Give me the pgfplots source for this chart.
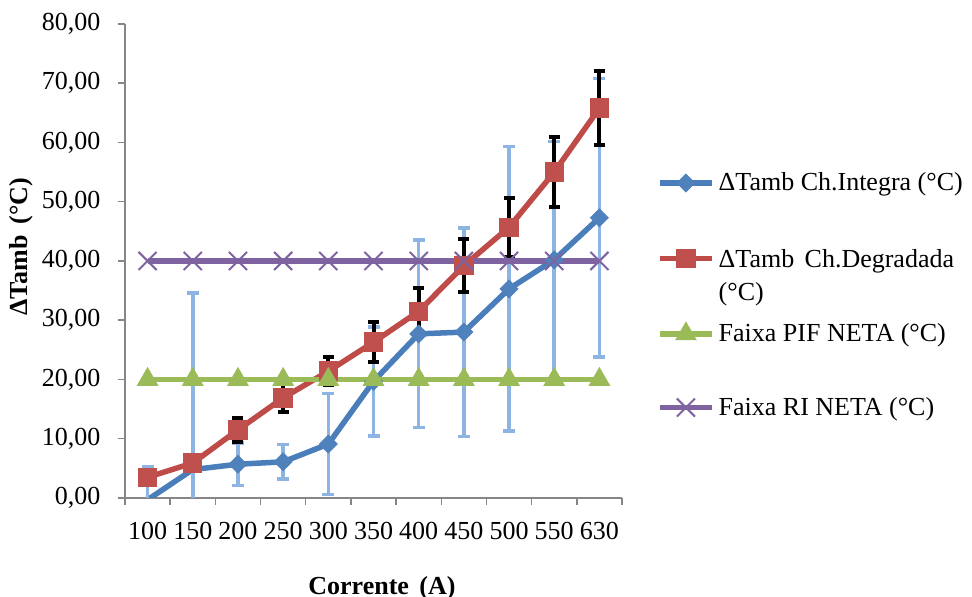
\documentclass[border=0pt]{standalone}
\usepackage{fontspec}
\setmainfont{Liberation Serif}
\usepackage{pgfplots}
\usepackage{pgfplotstable}
\pgfplotsset{compat=1.18}

\definecolor{cInt}{HTML}{4A7EBB}
\definecolor{cIntM}{HTML}{4F81BD}
\definecolor{cDeg}{HTML}{BE4B48}
\definecolor{cDegM}{HTML}{C0504D}
\definecolor{cPif}{HTML}{9BBB59}
\definecolor{cRi}{HTML}{7F63A1}
\definecolor{cErr}{HTML}{8DB4E2}
\definecolor{cAxis}{HTML}{868686}

% x = category index (100 ... 630), e = +/- error
\pgfplotstableread{
x y e
0 -0.3 5.5
1 4.8 29.8
2 5.7 3.6
3 6.1 2.9
4 9.1 8.5
5 19.7 9.2
6 27.7 15.8
7 28.0 17.6
8 35.3 24.0
9 40.2 20.0
10 47.3 23.5
}\integra

\pgfplotstableread{
x y e
0 3.5 0
1 5.9 0
2 11.5 2.0
3 16.9 2.4
4 21.4 2.4
5 26.3 3.4
6 31.5 3.9
7 39.2 4.5
8 45.7 5.0
9 55.0 5.9
10 65.8 6.3
}\degradada

\pgfplotstableread{
x y
0 20
1 20
2 20
3 20
4 20
5 20
6 20
7 20
8 20
9 20
10 20
}\pif

\pgfplotstableread{
x y
0 40
1 40
2 40
3 40
4 40
5 40
6 40
7 40
8 40
9 40
10 40
}\ri

\begin{document}
\begin{tikzpicture}
\useasboundingbox (-62.5pt,-49.5pt) rectangle (423.5pt,249pt);
\begin{axis}[
    at={(0pt,0pt)}, anchor=south west,
    width=248.5pt, height=237pt, scale only axis,
    xmin=-0.5, xmax=10.5, ymin=0, ymax=80,
    axis lines*=left,
    axis line style={cAxis, line width=0.75pt},
    tick align=outside,
    major tick length=3.5pt,
    tick style={cAxis, line width=0.75pt},
    xtick={-0.5,0.5,...,10.5},
    x tick label as interval,
    xticklabels={100,150,200,250,300,350,400,450,500,550,630},
    ytick={0,10,...,80},
    /pgf/number format/assume math mode=true,
    yticklabel style={/pgf/number format/fixed, /pgf/number format/fixed zerofill,
        /pgf/number format/precision=2, /pgf/number format/use comma, xshift=-5.3pt},
    xticklabel style={yshift=-5.2pt},
    tick label style={font=\fontsize{13}{15.5}\selectfont},
    xlabel={Corrente\hspace{0.4em}(A)},
    ylabel={ΔTamb\hspace{0.4em}(°C)},
    label style={font=\fontsize{13}{15.5}\selectfont\bfseries},
    xlabel style={at={(axis description cs:0.517,0)}, anchor=center, yshift=-45pt},
    ylabel style={at={(axis description cs:-0.208,0.53)}, anchor=center},
    legend cell align=left,
    legend image code/.code={
        \draw[mark repeat=2, mark phase=2, #1] plot coordinates {(0pt,0pt) (13pt,0pt) (26pt,0pt)};
    },
    legend style={draw=none, fill=none, inner sep=0pt,
        at={(axis description cs:1.070,0.696)}, anchor=north west,
        row sep=22.3pt, column sep=0pt,
        font=\fontsize{13}{15.5}\selectfont},
]
\addlegendimage{cInt, line width=2.75pt, mark=diamond*, mark size=4.4pt,
    mark options={solid, fill=cIntM, draw=cIntM, xscale=1.333, line width=0.5pt}}
\addlegendentry{ΔTamb Ch.Integra (°C)}

\addplot[cInt, line width=2.75pt, mark=diamond*, mark size=4.4pt,
    mark options={solid, fill=cIntM, draw=cIntM, xscale=1.333, line width=0.5pt},
    mark indices={2,3,4,5,6,7,8,9,10,11}, forget plot,
    error bars/.cd, y dir=both, y explicit,
    error bar style={cErr, line width=1.75pt},
    error mark options={cErr, rotate=90, mark size=3pt, line width=1.75pt}]
    table[x=x, y=y, y error=e]{\integra};

\addplot[cDeg, line width=2.75pt, mark=square*, mark size=4.6pt,
    mark options={solid, fill=cDegM, draw=cDegM, line width=0.5pt},
    error bars/.cd, y dir=both, y explicit,
    error bar style={black, line width=2pt},
    error mark options={black, rotate=90, mark size=2.75pt, line width=2pt}]
    table[x=x, y=y, y error=e]{\degradada};
\addlegendentry{\raisebox{0pt}[\height][0pt]{\begin{tabular}[t]{@{}l@{}}ΔTamb\hspace{0.4em}Ch.Degradada\\[1pt](°C)\end{tabular}}}

\addplot[cPif, line width=2.75pt, mark=triangle*, mark size=5.8pt,
    mark options={solid, fill=cPif, draw=cPif, line width=0.5pt}]
    table[x=x, y=y]{\pif};
\addlegendentry{Faixa PIF NETA (°C)}

\addplot[cRi, line width=2.75pt, mark=x, mark size=6.4pt,
    mark options={solid, draw=cRi, line width=1pt}]
    table[x=x, y=y]{\ri};
\addlegendentry{Faixa RI NETA (°C)}
\end{axis}
\end{tikzpicture}
\end{document}
